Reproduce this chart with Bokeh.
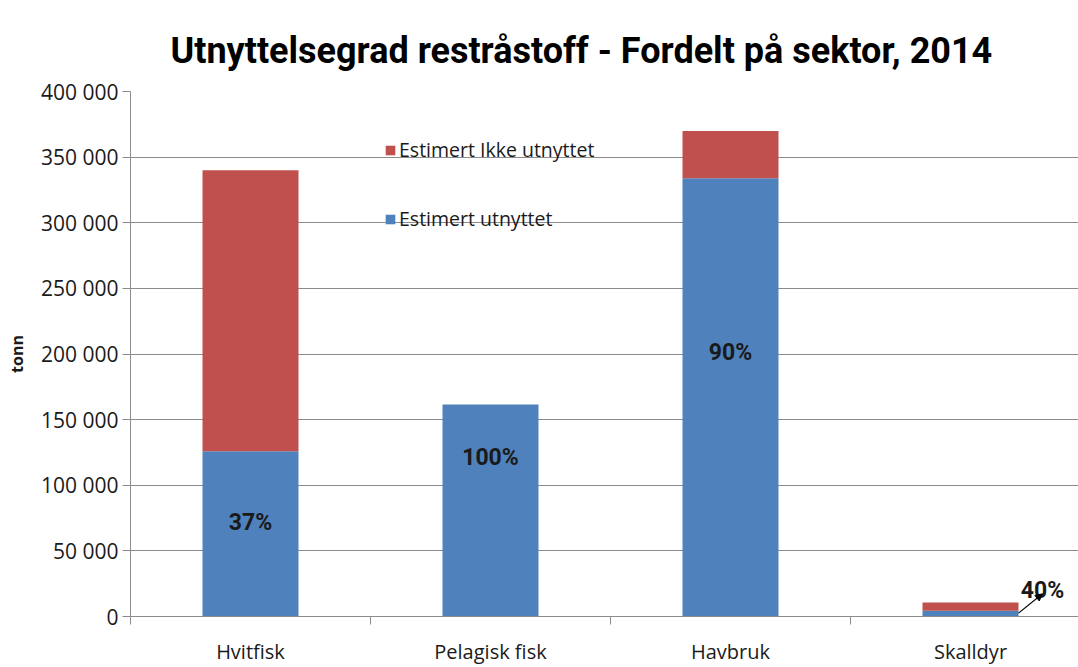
from bokeh.plotting import figure
from bokeh.models import (ColumnDataSource, FixedTicker, Legend, LegendItem, Arrow,
                          NormalHead, LabelSet, Range1d)
from bokeh.core.properties import value
from bokeh.embed import file_html
from bokeh.resources import INLINE

# ---- data ----
title_text = "Utnyttelsegrad restråstoff - Fordelt på sektor, 2014"
categories = ["Hvitfisk", "Pelagisk fisk", "Havbruk", "Skalldyr"]
utnyttet = [126000, 161500, 334000, 4300]          # Estimert utnyttet (tonn)
ikke_utnyttet = [214000, 0, 36000, 6400]           # Estimert Ikke utnyttet (tonn)
pct_labels = ["37%", "100%", "90%", "40%"]
y_ticks = [0, 50000, 100000, 150000, 200000, 250000, 300000, 350000, 400000]

# ---- styling / placement ----
BLUE = "#4F81BD"
RED = "#C0504D"
GRID = "#8C8C8C"
TXT = "#1a1a1a"
label_y = [71500, 121000, 201000, 19800]
label_dx = [0, 0, 0, 0.30]
bar_w = 0.4

xs = [i + 0.5 for i in range(len(categories))]
totals = [u + k for u, k in zip(utnyttet, ikke_utnyttet)]

src = ColumnDataSource(dict(x=xs, cat=categories, used=utnyttet, total=totals,
                            lab=pct_labels, ly=label_y,
                            lx=[x + d for x, d in zip(xs, label_dx)]))

p = figure(width=1078, height=667, x_range=Range1d(0, 3.95), y_range=Range1d(0, 400000),
           output_backend="svg", toolbar_location=None,
           min_border_left=130, min_border_right=0, min_border_top=91, min_border_bottom=51)
p.outline_line_color = None
p.background_fill_color = "white"

r_blue = p.vbar(x="x", bottom=0, top="used", width=bar_w, source=src,
                fill_color=BLUE, line_color=None)
r_red = p.vbar(x="x", bottom="used", top="total", width=bar_w, source=src,
               fill_color=RED, line_color=None)

# title
p.title.text = title_text
p.title.text_font = "Roboto"
p.title.text_font_style = "bold"
p.title.text_font_size = "36px"
p.title.align = "left"
p.title.offset = 40
p.title.text_color = "black"
p.title.standoff = 40

# y axis
yax = p.yaxis[0]
yax.ticker = FixedTicker(ticks=y_ticks)
yax.major_label_overrides = {t: f"{t:,}".replace(",", " ") for t in y_ticks}
yax.major_tick_out = 8
yax.major_tick_in = 0
yax.minor_tick_line_color = None
yax.axis_line_color = GRID
yax.major_tick_line_color = GRID
yax.major_label_text_font = "Open Sans"
yax.major_label_text_font_size = "21px"
yax.major_label_text_color = TXT
yax.major_label_standoff = 4
yax.axis_label = "tonn"
yax.axis_label_text_font = "Open Sans"
yax.axis_label_text_font_style = "bold"
yax.axis_label_text_font_size = "16px"
yax.axis_label_text_color = TXT
yax.axis_label_standoff = 10

# x axis
xax = p.xaxis[0]
xax.ticker = FixedTicker(ticks=xs, minor_ticks=list(range(len(categories))))
xax.major_label_overrides = {x: c for x, c in zip(xs, categories)}
xax.major_tick_line_color = None
xax.major_tick_out = 0
xax.major_tick_in = 0
xax.minor_tick_out = 8
xax.minor_tick_in = 0
xax.minor_tick_line_color = GRID
xax.axis_line_color = GRID
xax.major_label_text_font = "Open Sans"
xax.major_label_text_font_size = "20px"
xax.major_label_text_line_height = 1.0
xax.major_label_text_color = TXT
xax.major_label_standoff = 13

p.xgrid.visible = False
p.ygrid.grid_line_color = GRID
p.ygrid.grid_line_alpha = 1.0

# percentage labels
labels = LabelSet(x="lx", y="ly", text="lab", source=src, text_align="center",
                  text_baseline="middle", text_font=value("Roboto"),
                  text_font_style="bold", text_font_size="23px", text_color=TXT)
p.add_layout(labels)

# leader arrow for the small bar
i = len(categories) - 1
p.add_layout(Arrow(end=NormalHead(size=7, fill_color="black", line_color="black"),
                   x_start=xs[i] + bar_w / 2, y_start=utnyttet[i] * 0.6,
                   x_end=xs[i] + label_dx[i], y_end=label_y[i] - 2500,
                   line_color="black", line_width=1.2))

legend = Legend(items=[LegendItem(label="Estimert Ikke utnyttet", renderers=[r_red]),
                       LegendItem(label="Estimert utnyttet", renderers=[r_blue])],
                location=(254, 384), orientation="vertical",
                glyph_width=12, glyph_height=12, label_height=20, spacing=42,
                padding=0, margin=0, label_standoff=3,
                border_line_color=None, background_fill_alpha=0,
                label_text_font="Open Sans", label_text_font_size="19.5px",
                label_text_color=TXT)
p.add_layout(legend)

open("out.html", "w").write(file_html(p, INLINE))
